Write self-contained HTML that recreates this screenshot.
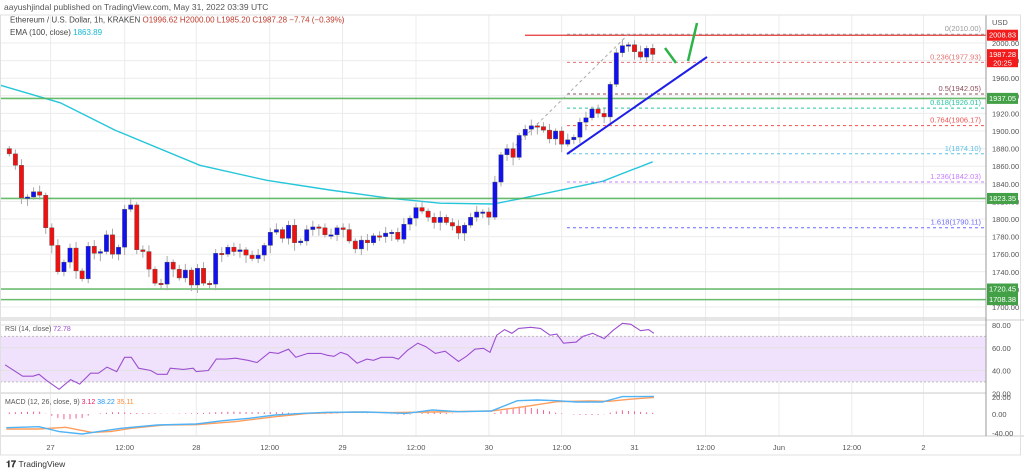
<!DOCTYPE html>
<html><head><meta charset="utf-8"><style>
html,body{margin:0;padding:0;background:#fff;width:1024px;height:472px;overflow:hidden}
svg{display:block;font-family:"Liberation Sans",sans-serif}
</style></head><body>
<svg id="c" width="1024" height="472" viewBox="0 0 1024 472">
<text x="4" y="10" font-size="8.5" fill="#555">aayushjindal published on TradingView.com, May 31, 2022 03:39 UTC</text>
<g id="grid"></g>
<g id="main"></g>
<g id="rsi"></g>
<g id="macd"></g>
<g id="axis"></g>
<text x="10" y="22.5" font-size="8" fill="#444">Ethereum / U.S. Dollar, 1h, KRAKEN <tspan fill="#c0392b">O1996.62 H2000.00 L1985.20 C1987.28 −7.74 (−0.39%)</tspan></text>
<text x="10" y="35" font-size="8" fill="#444">EMA (100, close) <tspan fill="#17b8d4">1863.89</tspan></text>
<text x="5" y="331" font-size="7" fill="#555">RSI (14, close) <tspan fill="#9c4fd0">72.78</tspan></text>
<text x="5" y="404" font-size="7" fill="#555">MACD (12, 26, close, 9) <tspan fill="#e91e63">3.12</tspan> <tspan fill="#2196f3">38.22</tspan> <tspan fill="#ff8a3d">35.11</tspan></text>
<text x="6" y="467" font-size="9" fill="#333" font-weight="bold">𝟏𝟕 <tspan font-weight="normal" font-size="8.5">TradingView</tspan></text>
</svg>
<script>
const firstOpen = 1880;
const closes = [1874,1861,1824,1825,1831,1827,1790,1770,1740,1751,1767,1741,1732,1769,1761,1763,1782,1760,1768,1811,1816,1765,1763,1743,1727,1726,1751,1743,1733,1742,1725,1744,1727,1726,1761,1760,1768,1763,1765,1759,1755,1759,1770,1785,1788,1778,1793,1773,1775,1788,1791,1790,1782,1782,1790,1788,1775,1766,1776,1773,1781,1780,1784,1785,1777,1794,1801,1813,1809,1802,1796,1802,1796,1792,1784,1793,1802,1808,1808,1802,1842,1873,1880,1870,1895,1902,1906,1905,1901,1891,1900,1885,1890,1893,1910,1915,1925,1920,1916,1953,1989,1997,1998,1990,1984,1994,1987];
const emaT = [-1.5,8.4,17.4,31.4,42.4,52.8,62.2,71,79.7,84.1,97.8,106];
const emaV = [1952,1932,1901,1861,1844,1833,1824,1818,1817,1823,1843,1865];
const priceTicks = [2000,1980,1960,1940,1920,1900,1880,1860,1840,1820,1800,1780,1760,1740,1720,1700];
const greenLevels = [1937.05,1823.35,1720.45,1708.38];
const fibRatios = ["0","0.236","0.5","0.618","0.764","1","1.236","1.618"];
const fibPrices = [2010.00,1977.93,1942.05,1926.01,1906.17,1874.10,1842.03,1790.11];
const fibColors = ["#999","#e57373","#8d4f5a","#26c6a0","#ef5350","#5bc0eb","#c77dff","#6a6aff"];
const rsiT = [-0.7,2.2,3.9,4.9,6.2,8.2,10.1,11.6,13.4,14.7,16.1,17.7,19,20.1,21.3,23.3,24.4,26,26.5,28.7,30.3,30.8,32.8,34.1,35.7,37.3,39.3,40.8,42.9,44.3,46,47.2,49.2,51.3,52.4,53.5,54.6,55.7,57.3,58.9,60,61.3,63.2,64.1,65.6,67.3,68.6,70.2,71.8,74,75.3,76.7,78.1,79.2,80.3,81.6,82.8,83.9,85.9,87.5,89.1,90.2,91.3,93.4,94.5,96.1,98,99.4,101,102.4,104,105.3,106.2];
const rsiV = [45,35,35,36.7,31,23.5,32,28,37.6,37.6,43,39,51.6,51.6,42,40,36.7,36.7,42,41,42,39,40,50,50,50.8,49,47,56,55,58.7,51.6,55,55,53.4,52.5,56,54,46.4,50,49,51.6,51.6,50,57.8,64,61,55,57,48,52.5,58.7,59.5,56,71,76,72.7,77,78,77,71,72,64,65,70,72.7,68,75,81.5,80.6,75,76,72.7];
const rsiTicks = [80,60,40,20];
const macdT = [-0.5,4.9,8.2,12,14.7,18.4,24.4,30.8,35.2,39.5,43.8,48.1,52.4,58.9,65.4,69.7,74,79.4,83.7,87,90.2,93.4,97.7,101,106.2];
const macdV = [-15.2,-14.1,-19.6,-22.2,-19.6,-15.9,-12.2,-11.1,-7.4,-4.8,-1.1,0.7,1.9,2.2,0.7,4.4,2.6,3.3,14.8,15.6,14.8,13.3,13.3,19.3,19.6];
const sigT = [-0.5,4.9,9.3,13.6,16.8,20.1,25.4,30.8,37.3,43.8,49.2,56.7,63.2,69.7,79.4,84.8,90.2,95.6,98.8,102.1,106.2];
const sigV = [-16.7,-16.7,-14.8,-20.4,-19.3,-15.9,-12.2,-11.9,-8.5,-3,0.7,2.2,1.5,2.2,3.3,8.1,13.7,14.4,14.1,16.3,18.5];
const timeLabels = ["27","12:00","28","12:00","29","12:00","30","12:00","31","12:00","Jun","12:00","2"];
const timeIdx = [6.8,19,30.8,42.9,54.9,67,79,91,103,114.7,126.8,138.8,150.6];

const NS="http://www.w3.org/2000/svg";
function mk(parent,tag,attrs){const e=document.createElementNS(NS,tag);for(const k in attrs)e.setAttribute(k,attrs[k]);parent.appendChild(e);return e;}
const X = i => 9.3 + i*6.07;
const YP = p => 43 + (2000-p)*0.88;
const YR = v => 325 + (80-v)*1.1375;
const YM = v => 414 - v*0.9;
const PR = 986;
const grid=document.getElementById('grid'), main=document.getElementById('main'), rsi=document.getElementById('rsi'), macd=document.getElementById('macd'), axis=document.getElementById('axis');

timeIdx.forEach((t,k)=>{const l=mk(grid,'line',{x1:X(t),x2:X(t),y1:15,y2:436,stroke:'#ececec','stroke-width':1});

});
priceTicks.forEach(p=>{const l=mk(grid,'line',{x1:0,x2:PR,y1:YP(p),y2:YP(p),stroke:'#ececec','stroke-width':1});


const t=mk(axis,'text',{x:992,y:YP(p)+3,'font-size':7.5,fill:'#555'});t.textContent=p.toFixed(2);

});
const usd=mk(axis,'text',{x:992,y:25,'font-size':7.5,fill:'#555'});usd.textContent='USD';



let d='';emaT.forEach((t,k)=>{d+=(k?'L':'M')+X(t).toFixed(1)+','+YP(emaV[k]).toFixed(1);});
const ema=mk(main,'path',{d:d,fill:'none',stroke:'#26c6da','stroke-width':1.4});



greenLevels.forEach(p=>{const l=mk(main,'line',{x1:0,x2:PR,y1:YP(p),y2:YP(p),stroke:'#4caf50','stroke-width':1.6,'stroke-opacity':0.85});

});
const rl=mk(main,'line',{x1:525,x2:PR,y1:YP(2008.83),y2:YP(2008.83),stroke:'#e53935','stroke-width':1.3});



fibPrices.forEach((p,k)=>{const l=mk(main,'line',{x1:567,x2:PR,y1:YP(p),y2:YP(p),stroke:fibColors[k],'stroke-width':1,'stroke-dasharray':'3,3'});


const t=mk(main,'text',{x:981,y:YP(p)-3,'font-size':7.5,fill:fibColors[k],'text-anchor':'end'});t.textContent=fibRatios[k]+'('+p.toFixed(2)+')';

});
const fd=mk(main,'line',{x1:X(82),y1:YP(1874),x2:X(102),y2:YP(2010),stroke:'#aaa','stroke-width':1,'stroke-dasharray':'3,3'});



let prev=firstOpen;
closes.forEach((c,i)=>{const o=prev;prev=c;const up=c>=o;const col=up?'#1010f0':'#f01010';
const hi=Math.max(o,c)+3+(i%3)*2, lo=Math.min(o,c)-3-(i%4)*2;
const w=mk(main,'line',{x1:X(i),x2:X(i),y1:YP(hi),y2:YP(lo),stroke:'#aaa','stroke-width':1});


const top=YP(Math.max(o,c)),h=Math.max(1.5,Math.abs(YP(o)-YP(c)));
const b=mk(main,'rect',{x:X(i)-2.2,y:top,width:4.4,height:h,fill:col,stroke:'#555','stroke-width':0.4});

});

const tl=mk(main,'line',{x1:567,y1:154,x2:707,y2:57,stroke:'#1e1ee8','stroke-width':2});


const g1=mk(main,'line',{x1:665,y1:48,x2:676,y2:63,stroke:'#2db34a','stroke-width':2.5});


const g2=mk(main,'line',{x1:688,y1:61,x2:697,y2:23,stroke:'#2db34a','stroke-width':2.5});



function tag(y,txt,col,h){const r=mk(axis,'rect',{x:987,y:y-h/2,width:31,height:h,fill:col});


txt.forEach((s,k)=>{const t=mk(axis,'text',{x:1002.5,y:y-h/2+8+k*8.5,'font-size':7.5,fill:'#fff','text-anchor':'middle'});t.textContent=s;

});}
tag(YP(2008.83),['2008.83'],'#f21c1c',11);
tag(YP(1987.28)+4,['1987.28','20:25'],'#f21c1c',18);
greenLevels.forEach(p=>tag(YP(p),[p.toFixed(2)],'#43a047',11));

[[0,PR,318],[0,1024,320],[0,PR,393],[0,1024,436]].forEach(a=>{const l=mk(axis,'line',{x1:a[0],x2:a[1],y1:a[2],y2:a[2],stroke:'#ddd','stroke-width':1.5});

});
const ax=mk(axis,'line',{x1:PR,x2:PR,y1:15,y2:436,stroke:'#999','stroke-width':1});


const fr=mk(axis,'rect',{x:0.5,y:15,width:1020,height:440,fill:'none',stroke:'#e0e0e0','stroke-width':1});



const band=mk(rsi,'rect',{x:0,y:YR(70),width:PR,height:YR(30)-YR(70),fill:'#f0e2fc'});


[70,30].forEach(v=>{const l=mk(rsi,'line',{x1:0,x2:PR,y1:YR(v),y2:YR(v),stroke:'#bbb','stroke-dasharray':'2,2'});

});
rsiTicks.forEach(v=>{const l=mk(rsi,'line',{x1:0,x2:PR,y1:YR(v),y2:YR(v),stroke:'#e2e2e2'});


const t=mk(axis,'text',{x:992,y:YR(v)+3,'font-size':7.5,fill:'#555'});t.textContent=v.toFixed(2);

});
d='';rsiT.forEach((t,k)=>{d+=(k?'L':'M')+X(t).toFixed(1)+','+YR(rsiV[k]).toFixed(1);});
const rp=mk(rsi,'path',{d:d,fill:'none',stroke:'#9c4fd0','stroke-width':1.1});



function interp(T,V,t){if(t<=T[0])return V[0];for(let k=1;k<T.length;k++){if(t<=T[k]){const f=(t-T[k-1])/(T[k]-T[k-1]);return V[k-1]+f*(V[k]-V[k-1]);}}return V[V.length-1];}
closes.forEach((c,i)=>{const h=(interp(macdT,macdV,i)-interp(sigT,sigV,i))*1.0;
const b=mk(macd,'line',{x1:X(i),x2:X(i),y1:YM(0),y2:YM(0)-h,stroke:'#f06292','stroke-width':1});

});
d='';sigT.forEach((t,k)=>{d+=(k?'L':'M')+X(t).toFixed(1)+','+YM(sigV[k]).toFixed(1);});
const sp=mk(macd,'path',{d:d,fill:'none',stroke:'#ff9d5c','stroke-width':1.4});


d='';macdT.forEach((t,k)=>{d+=(k?'L':'M')+X(t).toFixed(1)+','+YM(macdV[k]).toFixed(1);});
const mp=mk(macd,'path',{d:d,fill:'none',stroke:'#4fb3f6','stroke-width':1.4});


[['20.00',397],['0.00',414],['-40.00',433]].forEach(a=>{const t=mk(axis,'text',{x:992,y:a[1]+3,'font-size':7.5,fill:'#555'});t.textContent=a[0];

});

timeLabels.forEach((s,k)=>{const t=mk(axis,'text',{x:X(timeIdx[k]),y:450,'font-size':7.5,fill:'#555','text-anchor':'middle'});t.textContent=s;

});
</script>
</body></html>
